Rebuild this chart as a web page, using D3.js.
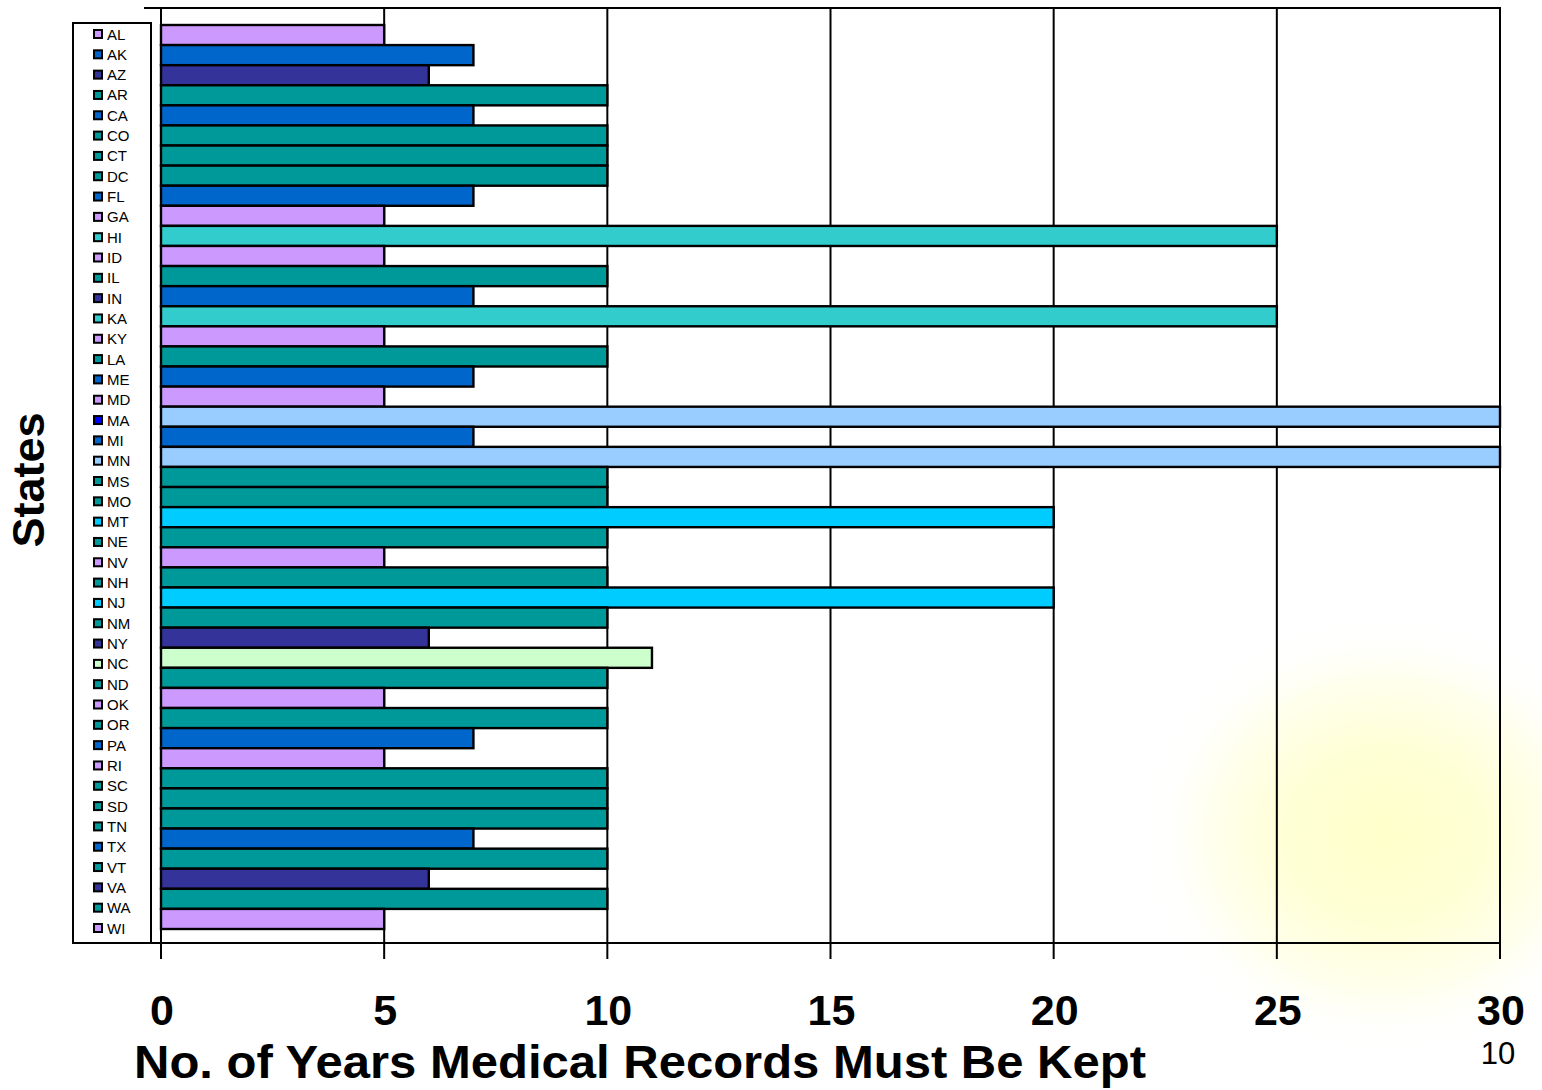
<!DOCTYPE html>
<html>
<head>
<meta charset="utf-8">
<script src="https://cdn.jsdelivr.net/npm/d3@7"></script>
<style>
  html, body { margin: 0; padding: 0; background: #fff; }
  svg { display: block; }
</style>
</head>
<body>
<svg id="chart" width="1542" height="1090"></svg>
<script>
// ---- data ----
const states = ["AL","AK","AZ","AR","CA","CO","CT","DC","FL","GA","HI","ID","IL","IN","KA","KY","LA","ME","MD","MA","MI","MN","MS","MO","MT","NE","NV","NH","NJ","NM","NY","NC","ND","OK","OR","PA","RI","SC","SD","TN","TX","VT","VA","WA","WI"];
const years = [5,7,6,10,7,10,10,10,7,5,25,5,10,7,25,5,10,7,5,30,7,30,10,10,20,10,5,10,20,10,6,11,10,5,10,7,5,10,10,10,7,10,6,10,5];
const barColors = ["#CC99FF","#0066CC","#333399","#009999","#0066CC","#009999","#009999","#009999","#0066CC","#CC99FF","#33CCCC","#CC99FF","#009999","#0066CC","#33CCCC","#CC99FF","#009999","#0066CC","#CC99FF","#99CCFF","#0066CC","#99CCFF","#009999","#009999","#00CCFF","#009999","#CC99FF","#009999","#00CCFF","#009999","#333399","#CCFFCC","#009999","#CC99FF","#009999","#0066CC","#CC99FF","#009999","#009999","#009999","#0066CC","#009999","#333399","#009999","#CC99FF"];
const legendColors = ["#CC99FF","#0066CC","#333399","#009999","#0066CC","#009999","#009999","#009999","#0066CC","#CC99FF","#33CCCC","#CC99FF","#009999","#333399","#33CCCC","#CC99FF","#009999","#0066CC","#CC99FF","#0000FF","#0066CC","#99CCFF","#009999","#009999","#00CCFF","#009999","#CC99FF","#009999","#00CCFF","#009999","#333399","#CCFFCC","#009999","#CC99FF","#009999","#0066CC","#CC99FF","#009999","#009999","#009999","#0066CC","#009999","#333399","#009999","#CC99FF"];
const xTicks = [0,5,10,15,20,25,30];
const xTitle = "No. of Years Medical Records Must Be Kept";
const yTitle = "States";
const pageNumber = "10";

// ---- layout ----
const svg = d3.select("#chart");
const plot = {left: 161, right: 1500, top: 8, bottom: 943};
const font = "'Liberation Sans', Arial, sans-serif";

const x = d3.scaleLinear().domain([0, 30]).range([plot.left, plot.right]);
const y = d3.scaleBand().domain(states).range([25, 929]).padding(0);
const yLegend = d3.scalePoint().domain(states).range([34, 928]);

// glow background
const defs = svg.append("defs");
const rg = defs.append("radialGradient").attr("id", "glow");
rg.append("stop").attr("offset", "0%").attr("stop-color", "#FFFFC4").attr("stop-opacity", 0.9);
rg.append("stop").attr("offset", "40%").attr("stop-color", "#FFFFC8").attr("stop-opacity", 0.75);
rg.append("stop").attr("offset", "70%").attr("stop-color", "#FFFFD0").attr("stop-opacity", 0.4);
rg.append("stop").attr("offset", "100%").attr("stop-color", "#FFFFFF").attr("stop-opacity", 0);
svg.append("ellipse")
  .attr("cx", 1385).attr("cy", 835).attr("rx", 245).attr("ry", 220)
  .attr("fill", "url(#glow)");

// gridlines + ticks
svg.append("g").selectAll("line.grid").data(xTicks).join("line")
  .attr("x1", d => x(d)).attr("x2", d => x(d))
  .attr("y1", plot.top).attr("y2", 959)
  .attr("stroke", "#000").attr("stroke-width", 2);

// top and bottom frame lines
svg.append("line").attr("x1", 144).attr("x2", plot.right + 1)
  .attr("y1", plot.top).attr("y2", plot.top).attr("stroke", "#000").attr("stroke-width", 2);
svg.append("line").attr("x1", 73).attr("x2", plot.right + 1)
  .attr("y1", plot.bottom).attr("y2", plot.bottom).attr("stroke", "#000").attr("stroke-width", 2);

// bars
svg.append("g").selectAll("rect").data(states).join("rect")
  .attr("x", x(0))
  .attr("y", d => y(d))
  .attr("width", (d, i) => x(years[i]) - x(0))
  .attr("height", y.bandwidth())
  .attr("fill", (d, i) => barColors[i])
  .attr("stroke", "#000").attr("stroke-width", 2.4);

// legend
const lg = svg.append("g");
lg.append("rect").attr("x", 73).attr("y", 23).attr("width", 78).attr("height", plot.bottom - 23)
  .attr("fill", "#fff").attr("stroke", "#000").attr("stroke-width", 2);
const items = lg.selectAll("g.item").data(states).join("g")
  .attr("transform", d => `translate(0,${yLegend(d)})`);
items.append("rect").attr("x", 94).attr("y", -4).attr("width", 8).attr("height", 8)
  .attr("fill", (d, i) => legendColors[i]).attr("stroke", "#000").attr("stroke-width", 2);
items.append("text").attr("x", 107).attr("y", 5.5)
  .attr("font-family", font).attr("font-size", 15).text(d => d);

// x tick labels
svg.append("g").selectAll("text").data(xTicks).join("text")
  .attr("x", d => x(d) + 1).attr("y", 1025)
  .attr("text-anchor", "middle")
  .attr("font-family", font).attr("font-weight", "bold").attr("font-size", 43)
  .text(d => d);

// axis titles
svg.append("text").attr("x", 640).attr("y", 1078).attr("text-anchor", "middle")
  .attr("font-family", font).attr("font-weight", "bold").attr("font-size", 46)
  .attr("textLength", 1012).attr("lengthAdjust", "spacingAndGlyphs")
  .text(xTitle);
svg.append("text")
  .attr("transform", "translate(44,480) rotate(-90)")
  .attr("text-anchor", "middle")
  .attr("font-family", font).attr("font-weight", "bold").attr("font-size", 45)
  .text(yTitle);

// page number
svg.append("text").attr("x", 1498).attr("y", 1064).attr("text-anchor", "middle")
  .attr("font-family", font).attr("font-size", 31).text(pageNumber);
</script>
</body>
</html>
